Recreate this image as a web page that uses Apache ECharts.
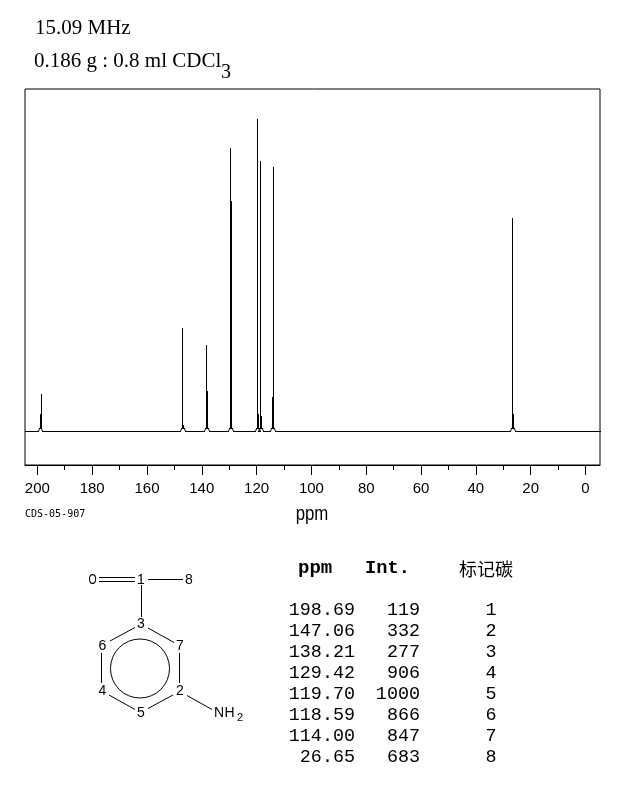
<!DOCTYPE html>
<html>
<head>
<meta charset="utf-8">
<style>
  html, body { margin: 0; padding: 0; background: #fff; }
  #chart { width: 622px; height: 794px; }
</style>
<script src="https://cdn.jsdelivr.net/npm/echarts@6/dist/echarts.min.js"></script>
</head>
<body>
<div id="chart"></div>
<script>
// peak table
const peakPpm = [198.69, 147.06, 138.21, 129.42, 119.70, 118.59, 114.00, 26.65];
const peakInt = [119, 332, 277, 906, 1000, 866, 847, 683];
const peakCarbon = [1, 2, 3, 4, 5, 6, 7, 8];
// the thicker lower part beside each spike
const shoulderPpm = [199.06, 146.69, 137.84, 129.05, 119.33, 118.22, 114.37, 26.28];
const shoulderInt = [56, 21, 130, 738, 56, 48, 108, 56];
const footInt = 10;

const majorTicks = [200, 180, 160, 140, 120, 100, 80, 60, 40, 20, 0];
const minorTicks = [190, 170, 150, 130, 110, 90, 70, 50, 30, 10];
const xStart = 204.5;
const xEnd = -5.3;

// spectrum trace, left to right
const trace = [[xStart, 0]];
peakPpm.forEach((p, i) => {
  const s = shoulderPpm[i];
  const h = peakInt[i];
  const sh = shoulderInt[i];
  const left = Math.max(p, s);
  const right = Math.min(p, s);
  const hLeft = p > s ? h : sh;
  const hRight = p > s ? sh : h;
  const low = Math.min(h, sh);
  trace.push(
    [left + 0.7, 0], [left + 0.35, footInt], [left, footInt], [left, hLeft], [left, low],
    [right, low], [right, hRight], [right, footInt], [right - 0.35, footInt], [right - 0.7, 0]
  );
});
trace.push([xEnd, 0]);
const traceSegments = trace.slice(1).map((pt, i) => [trace[i][0], trace[i][1], pt[0], pt[1]]);

// snap to the pixel grid so the trace stays a hard 1px line
const snap = v => Math.floor(v + 0.1) + 0.5;

function renderSegment(params, api) {
  const a = api.coord([api.value(0), api.value(1)]);
  const b = api.coord([api.value(2), api.value(3)]);
  return {
    type: 'line',
    shape: { x1: snap(a[0]), y1: snap(a[1]), x2: snap(b[0]), y2: snap(b[1]) },
    style: { stroke: '#000', lineWidth: 1, lineCap: 'square' }
  };
}

const plotFont = 'Liberation Sans';
const monoFont = 'Liberation Mono';
const serifFont = 'Liberation Serif';

function txt(x, y, text, font, size, extra) {
  return {
    type: 'text',
    x: x,
    y: y,
    silent: true,
    style: Object.assign({
      text: text,
      fontFamily: font,
      fontSize: size,
      fill: '#000',
      align: 'left',
      verticalAlign: 'middle'
    }, extra || {})
  };
}

function bond(x1, y1, x2, y2) {
  return {
    type: 'line',
    silent: true,
    shape: { x1: x1, y1: y1, x2: x2, y2: y2 },
    style: { stroke: '#000', lineWidth: 1 }
  };
}

const center = { align: 'center' };
const right = { align: 'right' };

const graphics = [
  txt(35, 28, '15.09 MHz', serifFont, 21),
  txt(34, 61, '0.186 g : 0.8 ml CDCl', serifFont, 21),
  txt(221, 73, '3', serifFont, 20),
  txt(25, 514, 'CDS-05-907', 'DejaVu Sans Mono', 10),
  Object.assign(txt(312, 514, 'ppm', plotFont, 21, center), { scaleX: 0.8 }),

  // structure
  bond(99, 577.5, 135, 577.5),
  bond(99, 581.5, 135, 581.5),
  bond(148, 579.5, 183, 579.5),
  bond(141.5, 585, 141.5, 617),
  bond(135, 627.5, 110, 641),
  bond(148, 628, 174, 642.5),
  bond(101.5, 653, 101.5, 683),
  bond(179.5, 653, 179.5, 683),
  bond(109, 695, 135, 709.5),
  bond(148, 708.5, 173, 695),
  bond(187, 695.5, 212, 709.5),
  {
    type: 'circle',
    silent: true,
    shape: { cx: 140, cy: 668.5, r: 29.5 },
    style: { stroke: '#000', fill: null, lineWidth: 1 }
  },
  Object.assign(txt(92.5, 580, 'O', plotFont, 14, center), { scaleX: 0.75 }),
  txt(141, 580, '1', plotFont, 14, center),
  txt(189, 580, '8', plotFont, 14, center),
  txt(141, 624, '3', plotFont, 14, center),
  txt(102.5, 646.5, '6', plotFont, 14, center),
  txt(180, 646.5, '7', plotFont, 14, center),
  txt(102.5, 691.5, '4', plotFont, 14, center),
  txt(180, 691.5, '2', plotFont, 14, center),
  txt(141, 713, '5', plotFont, 14, center),
  txt(214, 713, 'N', plotFont, 14),
  txt(224.5, 713, 'H', plotFont, 14),
  txt(237, 718, '2', plotFont, 11),

  // table header
  txt(298, 568, 'ppm', monoFont, 19, { fontWeight: 'bold' }),
  txt(365, 568, 'Int.', monoFont, 18.7, { fontWeight: 'bold' }),
  txt(459, 569, '标记碳', 'Noto Sans CJK SC', 18)
];

peakPpm.forEach((p, i) => {
  const y = 610 + i * 21;
  graphics.push(txt(355, y, p.toFixed(2), monoFont, 18.4, right));
  graphics.push(txt(420, y, String(peakInt[i]), monoFont, 18.4, right));
  graphics.push(txt(491, y, String(peakCarbon[i]), monoFont, 18.4, center));
});

const chart = echarts.init(document.getElementById('chart'), null, { renderer: 'canvas' });

chart.setOption({
  animation: false,
  backgroundColor: '#fff',
  grid: {
    left: 25,
    top: 89,
    width: 575,
    height: 376,
    show: true,
    borderColor: '#000',
    borderWidth: 1,
    backgroundColor: 'transparent'
  },
  xAxis: [
    {
      type: 'value',
      inverse: true,
      min: xEnd,
      max: xStart,
      position: 'bottom',
      splitLine: { show: false },
      axisLine: { show: true, onZero: false, lineStyle: { color: '#000', width: 1 } },
      axisTick: { show: true, length: 10, lineStyle: { color: '#000', width: 1 }, customValues: majorTicks },
      axisLabel: {
        show: true,
        margin: 16,
        fontFamily: plotFont,
        fontSize: 15,
        color: '#000',
        customValues: majorTicks,
        hideOverlap: false
      }
    },
    {
      type: 'value',
      inverse: true,
      min: xEnd,
      max: xStart,
      position: 'bottom',
      splitLine: { show: false },
      axisLine: { show: false, onZero: false },
      axisTick: { show: true, length: 5, lineStyle: { color: '#000', width: 1 }, customValues: minorTicks },
      axisLabel: { show: false }
    }
  ],
  yAxis: {
    type: 'value',
    min: -107.5,
    max: 1098,
    show: false,
    splitLine: { show: false }
  },
  series: [{
    type: 'custom',
    xAxisIndex: 0,
    silent: true,
    renderItem: renderSegment,
    encode: { x: [0, 2], y: [1, 3] },
    data: traceSegments
  }],
  graphic: graphics
});
</script>
</body>
</html>
